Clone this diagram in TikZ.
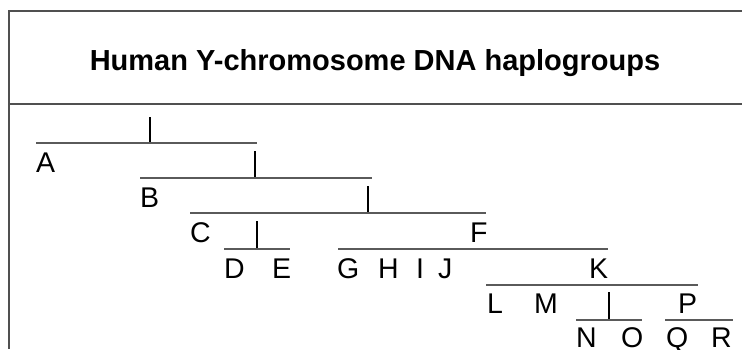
\documentclass[tikz,border=0pt]{standalone}
\usepackage{fontspec}
\setmainfont{Liberation Sans}
\begin{document}
\begin{tikzpicture}[x=1pt,y=-1pt,
  frame/.style={draw={rgb,255:red,80;green,80;blue,80},line width=1.3pt},
  hline/.style={draw={rgb,255:red,90;green,90;blue,90},line width=1.5pt},
  tick/.style={draw=black,line width=1.7pt},
  lbl/.style={anchor=base west,inner sep=0pt,font=\fontsize{28.5}{28.5}\selectfont},
  title/.style={anchor=base,inner sep=0pt,font=\bfseries\fontsize{29}{29}\selectfont}]
\useasboundingbox (0,0) rectangle (742,349);
% frame
\draw[frame] (742,11) -- (9,11) -- (9,349);
\draw[frame] (9,104) -- (742,104);
\node[title] (t) at (375,70) {Human Y-chromosome DNA haplogroups};
% root
\draw[tick] (150,117) -- (150,143);
\draw[hline] (36,143) -- (257,143);
\node[lbl] (A) at (36,172) {A};
\draw[tick] (255,151) -- (255,178);
\draw[hline] (140,178) -- (372,178);
\node[lbl] (B) at (140,207) {B};
\draw[tick] (368,186) -- (368,213);
\draw[hline] (190,213) -- (486,213);
\node[lbl] (C) at (190,242) {C};
\node[lbl] (F) at (470,242) {F};
\draw[tick] (257,221) -- (257,249);
\draw[hline] (224,249) -- (290,249);
\node[lbl] (D) at (224,278) {D};
\node[lbl] (E) at (272,278) {E};
\draw[hline] (338,249) -- (608,249);
\node[lbl] (G) at (337,278) {G};
\node[lbl] (H) at (378,278) {H};
\node[lbl] (I) at (416,278) {I};
\node[lbl] (J) at (438,278) {J};
\node[lbl] (K) at (589,278) {K};
\draw[hline] (486,285) -- (698,285);
\node[lbl] (L) at (487,313) {L};
\node[lbl] (M) at (534,313) {M};
\draw[tick] (609,292) -- (609,320);
\node[lbl] (P) at (678,313) {P};
\draw[hline] (576,320) -- (642,320);
\draw[hline] (665,320) -- (733,320);
\node[lbl] (N) at (576,347) {N};
\node[lbl] (O) at (621,347) {O};
\node[lbl] (Q) at (666,347) {Q};
\node[lbl] (R) at (711,347) {R};
\end{tikzpicture}
\end{document}
